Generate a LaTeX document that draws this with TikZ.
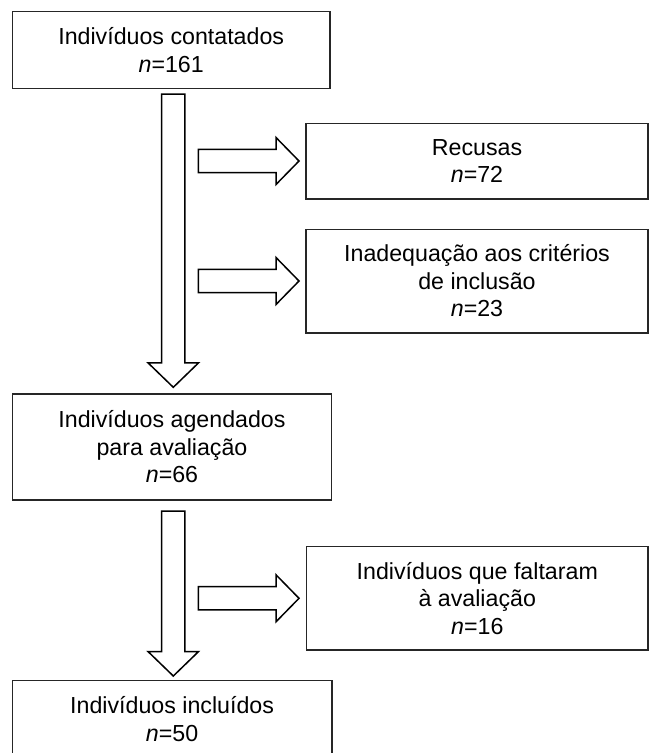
\documentclass[tikz,border=0pt]{standalone}
\usepackage{fontspec}
\setmainfont{Liberation Sans}
\begin{document}
\begin{tikzpicture}[x=1pt,y=-1pt,
  box/.style={draw=black!85,line width=1.5pt,align=center,inner sep=0pt,
    font=\fontsize{23.2}{27.5}\selectfont},
  blk/.style={draw=black,line width=1.5pt,fill=white,line join=miter},
  pics/rarrow/.style={code={
    \draw[blk] (0,-11.65) -- (77.7,-11.65) -- (77.7,-23.5) -- (100.7,0)
      -- (77.7,23.5) -- (77.7,11.65) -- (0,11.65) -- cycle;}},
  pics/darrow/.style={code={
    \draw[blk] (-11.65,0) -- (-11.65,#1-24.5) -- (-25.3,#1-24.5) -- (0,#1)
      -- (25.3,#1-24.5) -- (11.65,#1-24.5) -- (11.65,0) -- cycle;}}
]
\useasboundingbox (0,0) rectangle (650,753);

\node[box,minimum width=317.7pt,minimum height=76.6pt] (b1) at (171.2,50)
  {Indivíduos contatados\\\textit{n}=161};
\node[box,minimum width=342pt,minimum height=75.7pt] (rec) at (477,161.2)
  {Recusas\\\textit{n}=72};
\node[box,minimum width=342pt,minimum height=103.5pt] (inad) at (477,281)
  {Inadequação aos critérios\\de inclusão\\\textit{n}=23};
\node[box,minimum width=319.4pt,minimum height=106pt] (b2) at (172,447)
  {Indivíduos agendados\\para avaliação\\\textit{n}=66};
\node[box,minimum width=341.3pt,minimum height=103.3pt] (falt) at (477.3,598.3)
  {Indivíduos que faltaram\\à avaliação\\\textit{n}=16};
\node[box,minimum width=319.7pt,minimum height=76.6pt] (b4) at (172.1,719)
  {Indivíduos incluídos\\\textit{n}=50};

\coordinate (d1) at (173.3,94);
\coordinate (d2) at (173.3,511);
\pic at (d1) {darrow=293.3};
\pic at (d2) {darrow=165};

\pic at (198.3,161) {rarrow};
\pic at (198.3,281) {rarrow};
\pic at (198.3,598.3) {rarrow};
\end{tikzpicture}
\end{document}
